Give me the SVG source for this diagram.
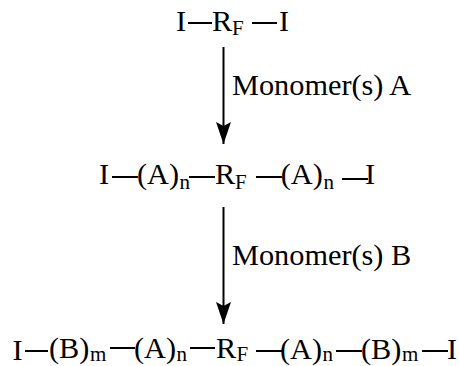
<svg xmlns="http://www.w3.org/2000/svg" width="459" height="366" viewBox="0 0 459 366">
<style>
text{font-family:"Liberation Serif","Times New Roman",serif;font-size:30.300px;fill:#000}
text.s{font-size:21px}
.b{stroke:#000;stroke-width:2;fill:none}
.c{stroke:#000;stroke-width:2;fill:none;marker-end:url(#a)}
</style>
<defs><marker id="a" markerUnits="userSpaceOnUse" markerWidth="24" markerHeight="16" refX="22" refY="8" orient="auto"><path d="M0 0.500L4 8L0 15.500L22 8Z" fill="#000"/></marker></defs>
<g id="connectors">
<path class="c" d="M223.500 47V144"/>
<path class="c" d="M223.500 207V324"/>
</g>
<g id="row1">
<text x="176" y="31">I</text><path class="b" d="M188 23H212M252 23H277"/>
<text x="212" y="31">R</text><text class="s" x="232" y="35">F</text><text x="279" y="31">I</text>
</g>
<g id="label-a"><text x="232" y="95">Monomer(s) A</text></g>
<g id="row2">
<text x="99" y="184">I</text><path class="b" d="M112 177H138M189 177H215M256 177H282M342 179H368"/>
<text x="137" y="184">(A)</text><text class="s" x="179.500" y="189">n</text>
<text x="215" y="184">R</text><text class="s" x="235" y="189">F</text>
<text x="280.700" y="184">(A)</text><text class="s" x="323.500" y="189">n</text>
<text x="365" y="184">I</text>
</g>
<g id="label-b"><text x="232" y="265">Monomer(s) B</text></g>
<g id="row3">
<text x="12.500" y="360">I</text><path class="b" d="M25 351H48M110 348H135M190 348H215M256 351H282M336 351H362M422 351H448"/>
<text x="49" y="358">(B)</text><text class="s" x="90" y="361.400">m</text>
<text x="134" y="358">(A)</text><text class="s" x="176.500" y="361.400">n</text>
<text x="216" y="358">R</text><text class="s" x="236.500" y="361.400">F</text>
<text x="280" y="359">(A)</text><text class="s" x="322.500" y="361.400">n</text>
<text x="361" y="359">(B)</text><text class="s" x="402" y="361.400">m</text>
<text x="447" y="359">I</text>
</g>
</svg>
